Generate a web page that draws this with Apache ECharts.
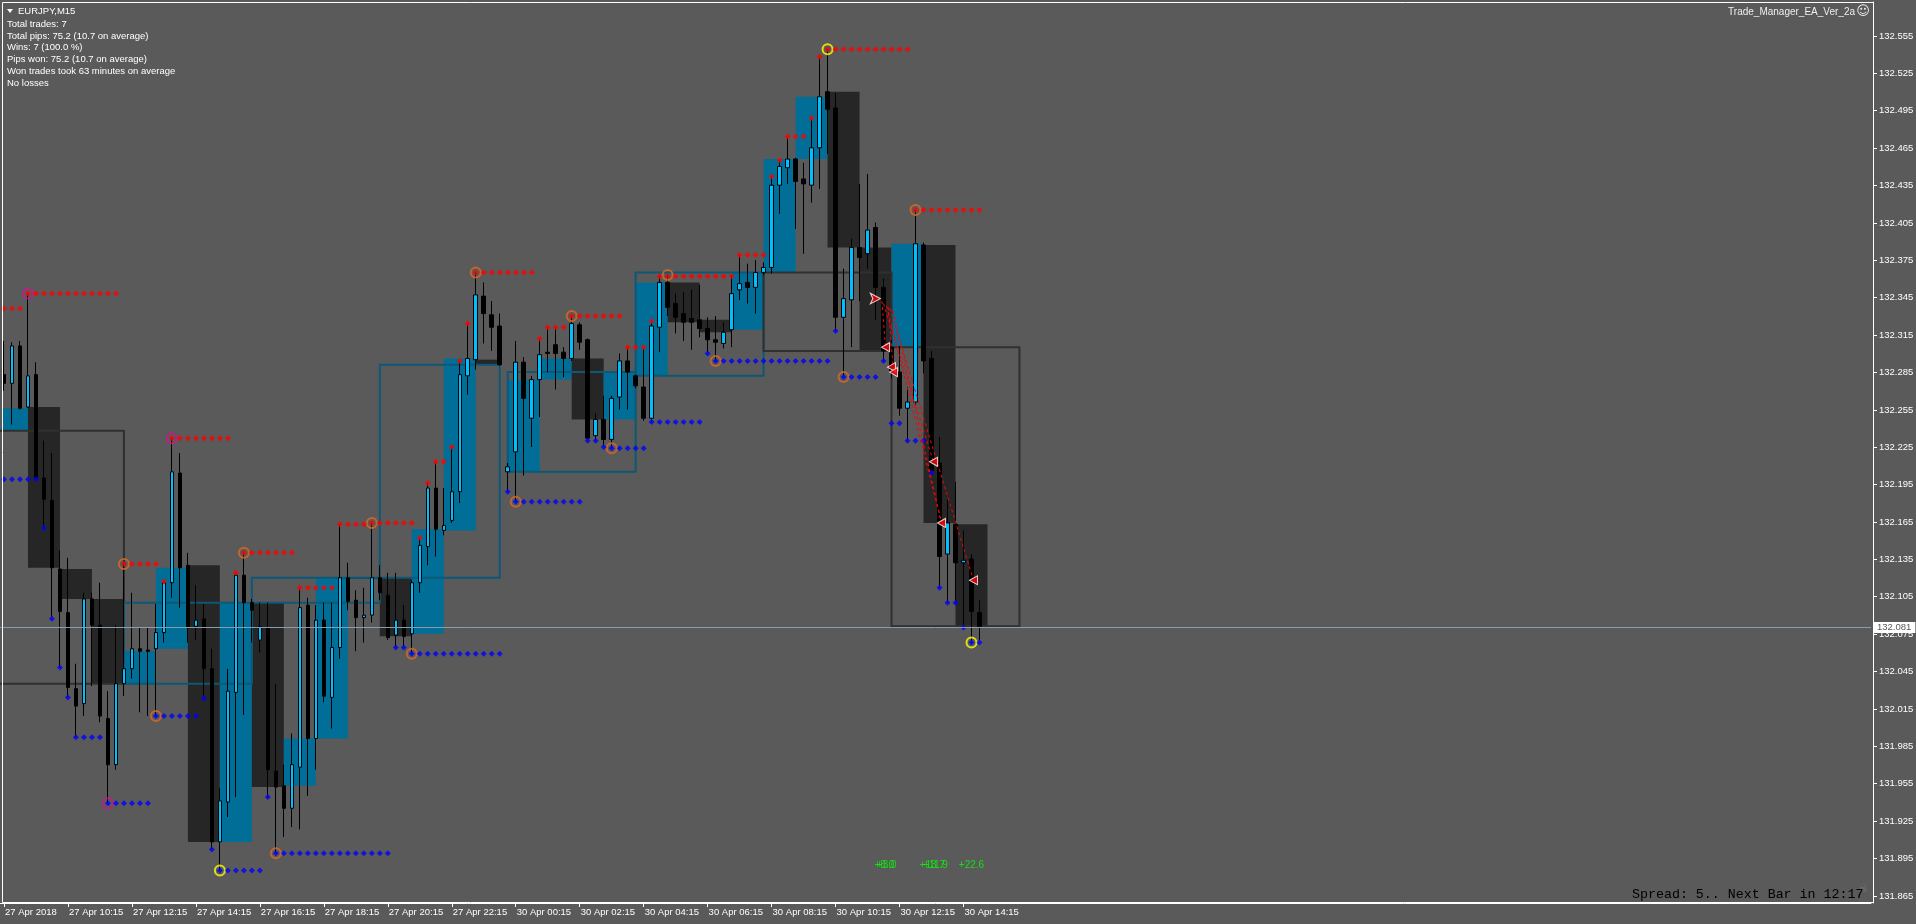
<!DOCTYPE html>
<html><head><meta charset="utf-8">
<script src="https://cdn.jsdelivr.net/npm/echarts@6/dist/echarts.min.js"></script>
<style>html,body{margin:0;padding:0;background:#5a5a5a;overflow:hidden}#c{width:1916px;height:924px}</style>
</head><body><div id="c"></div><script>
// ---------------- DATA ----------------
const symbolName = 'EURJPY,M15';
const eaName = 'Trade_Manager_EA_Ver_2a';
const infoLines = ['Total trades: 7','Total pips: 75.2 (10.7 on average)','Wins: 7 (100.0 %)','Pips won: 75.2 (10.7 on average)','Won trades took 63 minutes on average','No losses'];
const spreadText = 'Spread: 5.. Next Bar in 12:17';
const tickLabelsX = ['27 Apr 2018','27 Apr 10:15','27 Apr 12:15','27 Apr 14:15','27 Apr 16:15','27 Apr 18:15','27 Apr 20:15','27 Apr 22:15','30 Apr 00:15','30 Apr 02:15','30 Apr 04:15','30 Apr 06:15','30 Apr 08:15','30 Apr 10:15','30 Apr 12:15','30 Apr 14:15'];
const priceTicks = [131.865,131.895,131.925,131.955,131.985,132.015,132.045,132.075,132.105,132.135,132.165,132.195,132.225,132.255,132.285,132.315,132.345,132.375,132.405,132.435,132.465,132.495,132.525,132.555];
const lastPrice = 132.081;
const prevOpen = 132.238; // open of the 08:00 bar (left of the visible range)

const opens = [132.283,132.276,132.306,132.257,132.283,132.200,132.182,132.127,132.092,132.031,
132.019,132.103,132.082,132.007,131.970,132.035,132.047,132.063,132.062,132.063,
132.076,132.116,132.204,132.130,132.081,132.087,132.047,131.908,131.940,132.028,
132.122,132.100,132.070,132.080,131.965,131.953,131.935,131.968,132.098,131.991,
132.086,132.024,132.064,132.120,132.102,132.088,132.090,132.120,132.106,132.074,
132.086,132.075,132.116,132.145,132.192,132.158,132.166,132.189,132.282,132.295,
132.346,132.331,132.322,132.205,132.221,132.293,132.248,132.279,132.301,132.307,
132.301,132.296,132.323,132.311,132.234,132.247,132.231,132.265,132.294,132.282,
132.273,132.248,132.321,132.357,132.340,132.332,132.328,132.327,132.320,132.311,
132.308,132.319,132.351,132.357,132.353,132.365,132.369,132.435,132.449,132.456,
132.440,132.435,132.465,132.510,132.497,132.329,132.343,132.385,132.380,132.401,
132.353,132.305,132.285,132.256,132.261,132.387,132.296,132.212,132.139,132.163,
132.132,132.135,132.092];
const highs = [132.310,132.309,132.310,132.348,132.293,132.230,132.220,132.142,132.136,132.051,
132.108,132.108,132.116,132.029,132.082,132.131,132.108,132.080,132.080,132.099,
132.117,132.232,132.220,132.140,132.114,132.099,132.063,131.951,132.047,132.124,
132.140,132.103,132.100,132.100,132.035,131.970,131.995,132.112,132.104,132.098,
132.100,132.100,132.163,132.132,132.110,132.112,132.164,132.130,132.124,132.124,
132.098,132.118,132.152,132.196,132.213,132.192,132.225,132.294,132.324,132.365,
132.357,132.342,132.332,132.212,132.310,132.297,132.282,132.312,132.321,132.321,
132.305,132.330,132.325,132.312,132.252,132.266,132.266,132.300,132.305,132.283,
132.304,132.326,132.362,132.363,132.348,132.349,132.351,132.355,132.329,132.330,
132.325,132.363,132.379,132.372,132.375,132.373,132.442,132.455,132.474,132.457,
132.453,132.489,132.538,132.544,132.509,132.368,132.392,132.436,132.444,132.405,
132.360,132.312,132.306,132.273,132.415,132.389,132.302,132.233,132.183,132.197,
132.158,132.139,132.102];
const lows = [132.270,132.243,132.255,132.256,132.198,132.160,132.088,132.048,132.024,131.992,
132.009,132.033,132.004,131.939,131.966,132.025,132.039,132.012,132.009,132.009,
132.068,132.104,132.096,132.068,132.070,132.023,131.902,131.885,131.928,131.944,
132.010,132.068,132.060,131.943,131.899,131.912,131.920,131.918,131.945,131.966,
132.020,131.999,132.055,132.094,132.061,132.068,132.084,132.102,132.070,132.064,
132.064,132.059,132.108,132.130,132.137,132.154,132.164,132.180,132.267,132.287,
132.308,132.302,132.290,132.189,132.181,132.202,132.225,132.249,132.285,132.271,
132.281,132.294,132.303,132.230,132.230,132.225,132.224,132.255,132.255,132.272,
132.246,132.245,132.301,132.330,132.316,132.310,132.303,132.313,132.301,132.294,
132.304,132.305,132.343,132.340,132.332,132.363,132.364,132.412,132.436,132.400,
132.380,132.421,132.432,132.460,132.318,132.281,132.305,132.342,132.368,132.327,
132.294,132.280,132.250,132.229,132.259,132.284,132.204,132.112,132.100,132.100,
132.080,132.068,132.070];
const closes = [132.276,132.306,132.256,132.282,132.200,132.183,132.128,132.093,132.032,132.017,
132.103,132.082,132.009,131.970,132.035,132.047,132.063,132.061,132.061,132.076,
132.116,132.205,132.128,132.080,132.086,132.047,131.908,131.941,132.029,132.122,
132.100,132.094,132.081,131.966,131.952,131.935,131.970,132.096,131.991,132.086,
132.025,132.064,132.120,132.101,132.088,132.090,132.120,132.108,132.072,132.086,
132.073,132.116,132.146,132.192,132.159,132.162,132.189,132.283,132.296,132.347,
132.332,132.321,132.291,132.209,132.293,132.264,132.279,132.299,132.300,132.300,
132.296,132.324,132.309,132.232,132.247,132.231,132.264,132.294,132.285,132.274,
132.248,132.322,132.357,132.337,132.329,132.325,132.325,132.320,132.311,132.309,
132.317,132.348,132.356,132.353,132.365,132.369,132.435,132.450,132.456,132.438,
132.436,132.465,132.506,132.496,132.329,132.344,132.385,132.377,132.399,132.353,
132.302,132.286,132.256,132.261,132.388,132.294,132.206,132.137,132.164,132.132,
132.134,132.093,132.081];

// level lines: [firstBar, lastBar, price]
const redLevels = [[0,2,132.336],[3,14,132.348],[15,19,132.131],[20,20,132.117],[21,28,132.232],[29,29,132.124],[30,36,132.140],[37,41,132.112],[42,45,132.163],[46,51,132.164],[52,52,132.152],[53,53,132.196],[54,55,132.213],[56,56,132.225],[57,57,132.294],[58,58,132.324],[59,66,132.365],[67,67,132.312],[68,70,132.321],[71,77,132.330],[78,80,132.305],[81,81,132.326],[82,82,132.362],[83,91,132.362],[92,95,132.379],[96,96,132.442],[97,97,132.455],[98,100,132.474],[101,101,132.489],[102,102,132.538],[103,113,132.544],[114,122,132.415]];
const blueLevels = [[0,4,132.199],[5,5,132.160],[6,6,132.087],[7,7,132.048],[8,8,132.024],[9,12,131.992],[13,18,131.939],[19,24,132.009],[25,25,132.023],[26,26,131.902],[27,32,131.885],[33,33,131.944],[34,48,131.899],[49,50,132.064],[51,62,132.059],[63,63,132.189],[64,72,132.181],[73,74,132.230],[75,75,132.225],[76,80,132.224],[81,87,132.245],[88,88,132.300],[89,103,132.294],[104,104,132.318],[105,109,132.281],[110,110,132.294],[111,112,132.244],[113,115,132.230],[116,116,132.204],[117,117,132.112],[118,119,132.100],[120,120,132.080],[121,122,132.068]];
const circleMarks = [[3,132.348,'magenta'],[13,131.939,'magenta'],[21,132.232,'magenta'],
[15,132.131,'orange'],[19,132.009,'orange'],[30,132.140,'orange'],[34,131.899,'orange'],[46,132.164,'orange'],[51,132.059,'orange'],[59,132.365,'orange'],[64,132.181,'orange'],[71,132.330,'orange'],[76,132.224,'orange'],[83,132.363,'orange'],[89,132.294,'orange'],[105,132.281,'orange'],[114,132.415,'orange'],
[27,131.885,'yellow'],[103,132.544,'yellow'],[121,132.068,'yellow']];
const entryArrows = [[109.6,132.344]];
const closeArrows = [[110.25,132.305],[111.0,132.289],[111.25,132.285],[116.25,132.213],[117.25,132.164],[121.25,132.118]];
const tradeLines = [[109.8,132.342,110.25,132.305],[110.0,132.340,116.25,132.213],[110.4,132.338,117.25,132.164],[110.8,132.336,121.25,132.118],[111.2,132.334,117.25,132.164],[110.6,132.337,111.25,132.285]];
const profitPrice = 131.889;
const profitLabels = [[110.1,'+8.0'],[110.4,'+3.0'],[116.1,'+13.7'],[116.5,'+11.9'],[121.0,'+22.6']];

// ---------------- STRUCTURE ----------------
const N = 234;                 // slots on the time axis (incl. empty future)
const mondayFirstBar = 63;     // first bar of 30 Apr
function barInfo(i){ return i < mondayFirstBar ? {day:0, min:495 + 15*i} : {day:1, min:15*(i-mondayFirstBar)}; }
const cats = [];
for (let i=0;i<N;i++){ const b=barInfo(i); const h=Math.floor(b.min/60)%24, m=b.min%60; cats.push((b.day?'30 Apr ':'27 Apr ')+String(h).padStart(2,'0')+':'+String(m).padStart(2,'0')+'#'+i); }

function buildGroups(P){
  const res=[]; let cur=null;
  for(let i=-1;i<opens.length;i++){
    const b=barInfo(i); const key=b.day*1000+Math.floor(b.min/P);
    if(!cur||cur.key!==key){ cur={key,first:i,last:i,day:b.day}; res.push(cur);} else cur.last=i;
  }
  res.forEach((g,k)=>{
    const nxt=res[k+1];
    g.open = g.first<0 ? prevOpen : opens[g.first];
    g.close = closes[g.last];
    const lastOfFriday = g.day===0 && (!nxt || nxt.day!==0);
    g.end = lastOfFriday ? g.last : g.first + P/15;
  });
  return res;
}
const h1 = buildGroups(60), h4 = buildGroups(240);

const FONT = '"Liberation Sans", Arial, sans-serif';
const BLUE_FILL='#006e96', DARK_FILL='#262626', BULL_LINE='#0d5876', BEAR_LINE='#303030';
const circleColors = {magenta:'#c8168a', orange:'#d86a22', yellow:'#ffff00'};

function expand(levels){ const out=[]; levels.forEach(([a,b,p])=>{ for(let i=a;i<=b;i++) out.push([i,p]); }); return out; }
const showIdx = (idx)=> idx%8===0 && idx/8 < tickLabelsX.length;

const chart = echarts.init(document.getElementById('c'), null, {renderer:'canvas'});
chart.setOption({
  animation:false,
  backgroundColor:'#5a5a5a',
  grid:{left:-1, right:45, top:2, bottom:21, containLabel:false},
  xAxis:[
    {type:'category', data:cats, boundaryGap:true, gridIndex:0,
     axisLine:{show:true, onZero:false, lineStyle:{color:'#ffffff', width:1}},
     axisTick:{show:true, interval:showIdx, alignWithLabel:true, length:4, lineStyle:{color:'#ffffff'}},
     axisLabel:{interval:showIdx, formatter:(v,idx)=>tickLabelsX[idx/8]||'', color:'#ffffff', fontSize:9.5, fontFamily:FONT, align:'left', margin:4, padding:[0,0,0,1]},
     splitLine:{show:false}},
    {type:'value', min:-0.5, max:N-0.5, gridIndex:0, show:false, axisLine:{onZero:false}}
  ],
  yAxis:[{type:'value', position:'right', offset:2, min:131.859, max:132.582,
    axisLine:{show:true, onZero:false, lineStyle:{color:'#ffffff'}},
    axisTick:{show:false},
    axisLabel:{show:false},
    splitLine:{show:false}}],
  series:[
    {type:'custom', name:'H1', xAxisIndex:1, yAxisIndex:0, z:1, silent:true,
     data:h1.map(g=>[Math.max(g.first,-0.125), g.end, g.open, g.close, g.close>g.open?1:0]),
     encode:{x:[0,1], y:[2,3]},
     renderItem:(params,api)=>{
       const p0=api.coord([api.value(0),api.value(2)]), p1=api.coord([api.value(1),api.value(3)]);
       return {type:'rect', shape:{x:Math.min(p0[0],p1[0]), y:Math.min(p0[1],p1[1]), width:Math.abs(p1[0]-p0[0]), height:Math.max(1,Math.abs(p1[1]-p0[1]))},
               style:{fill: api.value(4)?BLUE_FILL:DARK_FILL}};
     }},
    {type:'custom', name:'H4', xAxisIndex:1, yAxisIndex:0, z:2, silent:true,
     data:h4.map(g=>[g.first, g.end, g.open, g.close, g.close>g.open?1:0]),
     encode:{x:[0,1], y:[2,3]},
     renderItem:(params,api)=>{
       const p0=api.coord([api.value(0),api.value(2)]), p1=api.coord([api.value(1),api.value(3)]);
       return {type:'rect', shape:{x:Math.min(p0[0],p1[0]), y:Math.min(p0[1],p1[1]), width:Math.abs(p1[0]-p0[0]), height:Math.abs(p1[1]-p0[1])},
               style:{fill:'none', stroke: api.value(4)?BULL_LINE:BEAR_LINE, lineWidth:2}};
     }},
    {type:'custom', name:'priceScale', xAxisIndex:1, yAxisIndex:0, z:10, silent:true,
     data:priceTicks.map(p=>[N-0.5, p]),
     encode:{x:0, y:1},
     renderItem:(params,api)=>{
       const pt=api.coord([api.value(0),api.value(1)]); const y=Math.round(pt[1])+0.5;
       return {type:'group', children:[
         {type:'line', shape:{x1:pt[0]+2, y1:y, x2:pt[0]+6, y2:y}, style:{stroke:'#ffffff', lineWidth:1}},
         {type:'text', x:pt[0]+8, y:y, style:{text:api.value(1).toFixed(3), fill:'#ffffff', font:'9.5px '+FONT, verticalAlign:'middle', align:'left'}}
       ]};
     }},
    {type:'candlestick', name:'EURJPY', xAxisIndex:0, yAxisIndex:0, z:3, barWidth:4,
     data:opens.map((o,i)=>[o, closes[i], lows[i], highs[i]]),
     itemStyle:{color:'#00bfff', color0:'#000000', borderColor:'#000000', borderColor0:'#000000', borderColorDoji:'#000000', borderWidth:1},
     markLine:{silent:true, symbol:['none','none'], animation:false, z:12,
       data:[{yAxis:lastPrice}],
       lineStyle:{color:'#8a9bab', width:1, type:'solid'},
       label:{show:true, position:'end', formatter:lastPrice.toFixed(3), backgroundColor:'#ffffff', color:'#5a5a5a', fontSize:9.5, fontFamily:FONT, padding:[1,4,0,3], distance:3}}},
    {type:'scatter', name:'circles', xAxisIndex:1, yAxisIndex:0, z:4, symbol:'circle', symbolSize:10,
     data:circleMarks.map(([x,p,c])=>({value:[x,p], itemStyle:{color:'rgba(0,0,0,0)', borderColor:circleColors[c], borderWidth:2}}))},
    {type:'scatter', name:'highs', xAxisIndex:1, yAxisIndex:0, z:5, symbol:'diamond', symbolSize:6, itemStyle:{color:'#ff0000'}, data:expand(redLevels)},
    {type:'scatter', name:'lows', xAxisIndex:1, yAxisIndex:0, z:5, symbol:'diamond', symbolSize:6, itemStyle:{color:'#0000ff'}, data:expand(blueLevels)},
    {type:'lines', coordinateSystem:'cartesian2d', xAxisIndex:1, yAxisIndex:0, z:6, silent:true,
     lineStyle:{color:'#ff0000', width:1, type:[3,3], opacity:1},
     data:tradeLines.map(t=>({coords:[[t[0],t[1]],[t[2],t[3]]]}))},
    {type:'scatter', name:'entries', xAxisIndex:1, yAxisIndex:0, z:7, symbol:'arrow', symbolSize:[8,10], symbolRotate:-90,
     itemStyle:{color:'#ff0000', borderColor:'#ffffff', borderWidth:1}, data:entryArrows},
    {type:'scatter', name:'exits', xAxisIndex:1, yAxisIndex:0, z:7, symbol:'triangle', symbolSize:[9,8], symbolRotate:90,
     itemStyle:{color:'#ff0000', borderColor:'#ffffff', borderWidth:1}, data:closeArrows},
    {type:'scatter', name:'profits', xAxisIndex:1, yAxisIndex:0, z:8, symbolSize:1, itemStyle:{color:'rgba(0,0,0,0)'},
     data:profitLabels.map(([x,t])=>({value:[x,profitPrice], label:{formatter:t}})),
     label:{show:true, position:'inside', color:'#00ff00', fontSize:10, fontFamily:FONT}}
  ],
  graphic:[
    {type:'rect', silent:true, z:100, shape:{x:2.5,y:2.5,width:1871,height:900}, style:{fill:'none', stroke:'#ffffff', lineWidth:1}},
    {type:'polygon', silent:true, z:100, shape:{points:[[7,9],[13,9],[10,13]]}, style:{fill:'#ffffff'}},
    {type:'text', silent:true, z:100, x:18, y:11, style:{text:symbolName, fill:'#ffffff', font:'9.5px '+FONT, verticalAlign:'middle'}},
    ...infoLines.map((t,k)=>({type:'text', silent:true, z:100, x:7, y:24+k*11.9, style:{text:t, fill:'#ffffff', font:'9.5px '+FONT, verticalAlign:'middle'}})),
    {type:'text', silent:true, z:100, x:1855, y:12, style:{text:eaName, fill:'#eeeef4', font:'10px '+FONT, align:'right', verticalAlign:'middle'}},
    {type:'text', silent:true, z:100, x:1863, y:12, style:{text:'\u263A', fill:'#eeeef4', font:'13px "DejaVu Sans"', align:'center', verticalAlign:'middle'}},
    {type:'text', silent:true, z:100, x:1632, y:894, style:{text:spreadText, fill:'#000000', font:'13.3px "Liberation Mono", monospace', verticalAlign:'middle'}},
    {type:'text', silent:true, z:99, x:1863, y:889, style:{text:'\u2620', fill:'#767676', font:'11px "DejaVu Sans"', align:'center', verticalAlign:'middle'}}
  ]
});
</script></body></html>
